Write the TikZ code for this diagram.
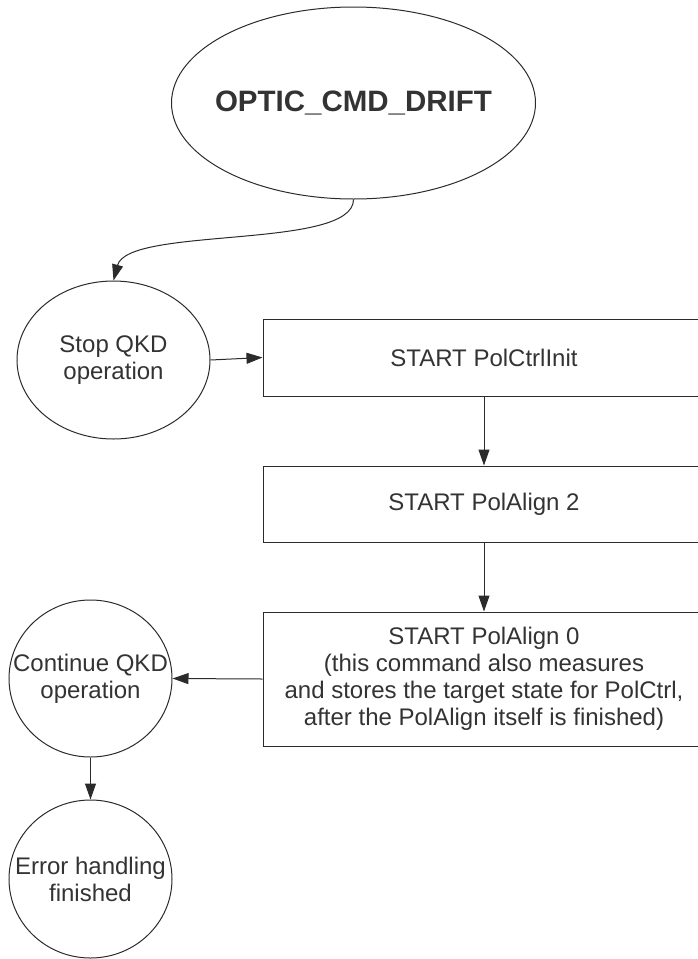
\documentclass[tikz,border=0pt]{standalone}
\usepackage{fontspec}
\setmainfont{Liberation Sans}
\usetikzlibrary{shapes.geometric,arrows.meta}
\definecolor{ink}{HTML}{2B2B2B}
\definecolor{txt}{HTML}{333333}
\begin{document}
\begin{tikzpicture}[x=1pt,y=-1pt,
  outline/.style={draw=ink, line width=1pt, inner sep=0pt},
  oval/.style={outline, ellipse},
  stepbox/.style={outline, rectangle, minimum width=442pt, align=center,
    text=txt, font=\fontsize{24}{27}\selectfont},
  label text/.style={align=center, text=txt, inner sep=0pt,
    font=\fontsize{24}{27}\selectfont},
  flow/.style={draw=ink, line width=1pt, -{Triangle[length=16pt,width=11pt]}}
]
\clip (0,0) rectangle (698,959);

% start event
\node[oval, minimum width=364pt, minimum height=192pt] (drift) at (353.5,103) {};
\node[label text, font=\fontsize{29.5}{33}\selectfont\bfseries] (driftlbl) at (drift) {OPTIC\_CMD\_DRIFT};

% left column: states
\node[oval, minimum width=193pt, minimum height=158pt] (stop) at (113.5,360) {};
\node[label text] (stoplbl) at (stop) {Stop QKD\\operation};

\node[oval, minimum width=163pt, minimum height=157pt] (cont) at (90.5,678.5) {};
\node[label text] (contlbl) at (cont) {Continue QKD\\operation};

\node[oval, minimum width=163pt, minimum height=158pt] (done) at (90.5,879) {};
\node[label text] (donelbl) at (done) {Error handling\\finished};

% right column: commands
\node[stepbox, minimum height=77pt] (init) at (484,357.5) {START PolCtrlInit};
\node[stepbox, minimum height=76pt] (align2) at (484,504) {START PolAlign 2};
\node[stepbox, minimum height=134pt] (align0) at (484,679)
  {START PolAlign 0\\(this command also measures\\and stores the target state for PolCtrl,\\after the PolAlign itself is finished)};

% connectors
\draw[flow] (drift.south) .. controls (353.5,250) and (128,226) .. (stop.north);
\draw[flow] (stop.east) -- (init.west);
\draw[flow] (init.south) -- (align2.north);
\draw[flow] (align2.south) -- (align0.north);
\draw[flow] (align0.west) -- (cont.east);
\draw[flow] (cont.south) -- (done.north);
\end{tikzpicture}
\end{document}
